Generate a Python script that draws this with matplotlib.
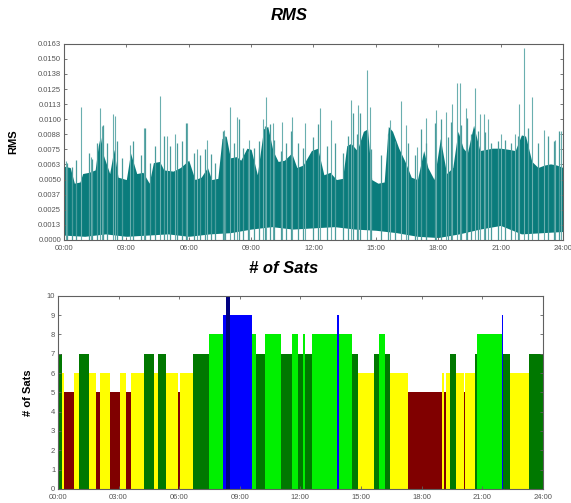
import numpy as np
import matplotlib
matplotlib.use('Agg')
import matplotlib.pyplot as plt

plt.rcParams['font.family'] = ['Liberation Sans', 'DejaVu Sans']

# --- RMS panel (values in units of 1e-3) ---
body_t = [0, 0.3, 0.5, 0.77, 0.9, 1.2, 1.5, 1.65, 1.75, 1.9,
          2.2, 2.4, 2.6, 3.0, 3.2, 3.5, 3.8, 4.1, 4.3, 4.6,
          4.8, 5.25, 5.6, 6.0, 6.3, 6.6, 6.9, 7.1, 7.4, 7.6,
          7.8, 8.0, 8.3, 8.5, 8.8, 9.0, 9.3, 9.6, 9.8, 10.05,
          10.3, 10.6, 10.95, 11.2, 11.5, 11.9, 12.2, 12.5, 12.8, 13.1,
          13.4, 13.6, 13.8, 14.1, 14.4, 14.6, 14.8, 15.1, 15.4, 15.6,
          15.8, 16.1, 16.4, 16.7, 17.0, 17.3, 17.5, 17.8, 18.1, 18.4,
          18.7, 18.95, 19.2, 19.4, 19.7, 20.0, 20.3, 20.6, 21.0, 21.4,
          21.7, 22.0, 22.2, 22.5, 22.8, 23.1, 23.4, 23.7, 24.0]
body_top = [6.1, 6.0, 4.7, 4.8, 5.5, 5.6, 5.8, 7.8, 8.6, 7.0,
            5.5, 7.5, 5.2, 5.0, 7.2, 5.5, 5.6, 4.7, 6.4, 6.5,
            5.8, 5.7, 6.0, 6.6, 5.0, 5.2, 6.0, 5.0, 5.1, 8.4,
            8.6, 6.8, 6.9, 6.6, 7.6, 7.5, 5.4, 9.2, 9.4, 7.4,
            6.5, 6.6, 7.2, 6.0, 6.2, 7.4, 7.6, 5.4, 5.6, 5.0,
            5.1, 7.8, 8.0, 7.4, 9.0, 9.2, 5.0, 4.7, 4.8, 9.4,
            9.0, 7.6, 6.5, 5.2, 5.0, 7.4, 6.0, 5.0, 8.4, 5.5,
            6.0, 9.0, 7.6, 7.2, 9.5, 7.4, 7.5, 7.6, 7.6, 7.5,
            7.4, 8.7, 8.6, 6.5, 6.0, 6.2, 6.3, 6.2, 6.0]

low_t = [0, 1, 2, 3, 4, 5, 6, 7, 8, 9, 10, 11, 12,
         13, 14, 15, 16, 17, 18, 19, 20, 21, 22, 23, 24]
low_val = [0.4, 0.3, 0.5, 0.3, 0.4, 0.5, 0.3, 0.5, 0.6, 0.9, 1.1, 0.9, 1.0,
           1.1, 0.9, 0.8, 0.6, 0.3, 0.2, 0.5, 0.9, 1.2, 0.5, 0.6, 0.7]

# tall isolated spikes
spike_t = [0.1, 0.8, 1.3, 1.75, 1.85, 2.35, 2.45, 3.2, 3.85, 4.62,
           4.95, 5.35, 5.9, 6.4, 6.9, 7.7, 8.0, 8.3, 8.9, 9.55,
           9.7, 10.05, 10.5, 10.95, 11.6, 12.3, 12.85, 13.8, 14.15, 14.55,
           14.7, 15.7, 16.2, 16.45, 17.0, 17.4, 17.9, 18.35, 18.65, 18.9,
           19.05, 19.35, 19.75, 20.0, 20.2, 20.4, 21.0, 21.7, 21.9, 22.13,
           22.5, 23.1, 23.6, 23.9]
spike_val = [6.5, 11.05, 6.9, 10.9, 9.4, 10.4, 10.3, 7.9, 9.3, 11.9,
             8.6, 8.8, 9.7, 7.5, 8.3, 9.1, 11.05, 10.2, 8.3, 10.0,
             11.8, 9.7, 9.8, 10.2, 9.7, 10.9, 9.9, 11.6, 11.2, 14.1,
             11.0, 9.9, 11.5, 9.5, 7.7, 10.1, 10.8, 10.6, 11.3, 13.0,
             13.0, 10.9, 12.6, 10.4, 10.4, 10.0, 8.8, 8.8, 11.3, 15.9,
             11.8, 9.1, 8.3, 9.0]

# shorter hairs above the dense body
hair_t = [0.13, 0.37, 0.6, 1.2, 1.35, 1.6, 1.9, 2.05, 2.55, 2.8,
          3.3, 3.7, 3.9, 4.15, 4.4, 4.8, 5.1, 5.45, 5.7, 5.85,
          6.25, 6.55, 6.8, 7.05, 7.25, 7.65, 7.75, 8.2, 8.4, 8.6,
          8.85, 9.15, 9.4, 9.65, 9.9, 10.1, 10.45, 10.7, 10.9, 11.27,
          11.5, 11.99, 12.23, 12.63, 13.03, 13.43, 13.67, 13.91, 14.07, 14.23,
          14.79, 15.27, 15.59, 15.91, 16.55, 16.87, 17.19, 17.43, 17.83, 18.15,
          18.47, 18.63, 19.11, 19.4, 19.59, 19.91, 20.23, 20.55, 20.87, 21.19,
          21.51, 21.83, 22.31, 22.79, 23.27, 23.59, 23.83]
hair_val = [6.4, 6.0, 6.6, 7.2, 6.7, 8.0, 9.5, 8.0, 8.2, 6.8,
            8.2, 7.0, 9.3, 6.4, 7.8, 8.6, 7.8, 8.0, 8.2, 9.7,
            7.2, 7.0, 7.5, 7.1, 6.4, 9.0, 8.6, 8.0, 10.0, 7.6,
            7.4, 7.6, 8.2, 9.4, 9.6, 8.3, 7.4, 8.0, 9.0, 8.0,
            7.6, 8.5, 9.6, 7.8, 8.0, 7.2, 8.6, 10.5, 8.8, 10.5,
            7.5, 7.0, 8.8, 8.2, 8.0, 7.0, 9.2, 8.0, 9.7, 10.0,
            8.5, 9.8, 9.5, 10.1, 8.8, 9.0, 8.9, 8.0, 8.2, 8.3,
            8.0, 8.6, 9.3, 8.0, 8.6, 8.2, 9.0]

rms_ticks = [0.0, 0.00125, 0.0025, 0.00375, 0.005, 0.00625, 0.0075,
             0.00875, 0.01, 0.01125, 0.0125, 0.01375, 0.015, 0.01625]
rms_labels = ['0.0000', '0.0013', '0.0025', '0.0037', '0.0050', '0.0063', '0.0075',
              '0.0088', '0.0100', '0.0113', '0.0125', '0.0138', '0.0150', '0.0163']

# --- # of Sats panel ---
sat_start = [0, 0.2, 0.28, 0.77, 1.04, 1.53, 1.89, 2.06, 2.55, 3.08,
             3.36, 3.62, 4.28, 4.74, 4.93, 5.35, 5.92, 6.04, 6.69, 7.48,
             8.17, 8.34, 8.52, 9.62, 9.8, 10.25, 11.03, 11.57, 11.9, 12.15,
             12.23, 12.55, 13.8, 13.9, 14.55, 14.84, 15.62, 15.87, 16.2, 16.44,
             17.33, 18.99, 19.1, 19.2, 19.4, 19.7, 20.08, 20.14, 20.66, 20.74,
             21.98, 22.03, 22.39, 23.3]
sat_count = [7, 6, 5, 6, 7, 6, 5, 6, 5, 6,
             5, 6, 7, 6, 7, 6, 5, 6, 7, 8,
             9, 10, 9, 8, 7, 8, 7, 8, 7, 8,
             7, 8, 9, 8, 7, 6, 7, 8, 7, 6,
             5, 6, 5, 6, 7, 6, 5, 6, 7, 8,
             9, 7, 6, 7]
sat_colors = {5: '#800000', 6: '#ffff00', 7: '#007800', 8: '#00f000',
              9: '#0000ff', 10: '#000080'}

hour_ticks = list(range(0, 25, 3))
hour_labels = ['%02d:00' % h for h in hour_ticks]

teal = '#0a7c7c'
grey = '#606060'

fig = plt.figure(figsize=(5.71, 5.03), dpi=100)
ax1 = fig.add_axes([0.112, 0.523, 0.874, 0.39])
ax2 = fig.add_axes([0.1016, 0.028, 0.849, 0.384])

# top: RMS
scale = 1e-3
ax1.vlines(spike_t, 0, np.array(spike_val) * scale, color='#6aafaf', lw=0.8)
ax1.vlines(hair_t, 0, np.array(hair_val) * scale, color='#4a9c9c', lw=0.9)
ax1.fill_between(body_t, 0, np.array(body_top) * scale, color=teal, lw=0)
ax1.fill_between(low_t, 0, np.array(low_val) * scale, color='white', lw=0)
ax1.set_xlim(0, 24)
ax1.set_ylim(0, 0.01625)
ax1.set_yticks(rms_ticks)
ax1.set_yticklabels(rms_labels)
ax1.set_ylabel('RMS', fontsize=8, fontweight='bold', labelpad=14)

# bottom: number of satellites
ends = sat_start[1:] + [24]
widths = np.array(ends) - np.array(sat_start)
ax2.bar(sat_start, sat_count, width=widths, align='edge',
        color=[sat_colors[c] for c in sat_count], lw=0)
ax2.set_xlim(0, 24)
ax2.set_ylim(0, 10)
ax2.set_yticks(range(0, 11))
ax2.set_ylabel('# of Sats', fontsize=8, fontweight='bold', labelpad=10)

for ax in (ax1, ax2):
    ax.set_xticks(hour_ticks)
    ax.set_xticklabels(hour_labels)
    ax.tick_params(direction='in', top=True, right=True, length=2.5,
                   width=0.6, color=grey, labelsize=5.5, labelcolor='#555555', pad=2)
    ax.tick_params(axis='x', pad=3.5)
    for s in ax.spines.values():
        s.set_color(grey)
        s.set_linewidth(0.8)

fig.text(0.506, 0.97, 'RMS', ha='center', va='center', fontsize=12,
         fontweight='bold', fontstyle='italic')
fig.text(0.496, 0.467, '# of Sats', ha='center', va='center', fontsize=12,
         fontweight='bold', fontstyle='italic')

fig.savefig('out.png', dpi=100)
